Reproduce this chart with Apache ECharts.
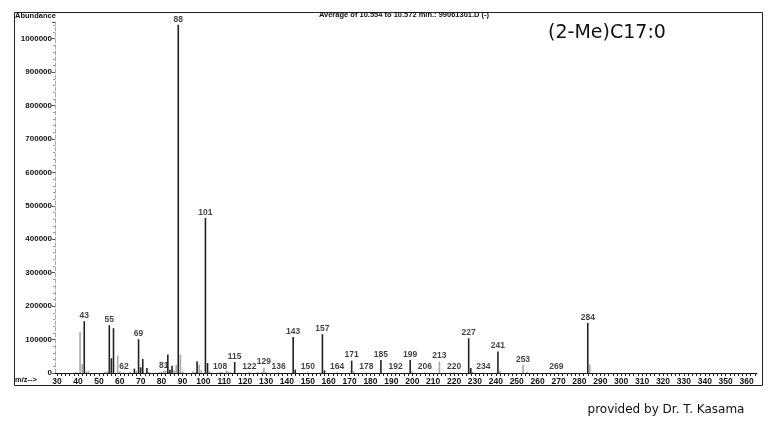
<!DOCTYPE html>
<html>
<head>
<meta charset="utf-8">
<script src="https://cdn.jsdelivr.net/npm/echarts@6/dist/echarts.min.js"></script>
<style>
html,body{margin:0;padding:0;background:#fff;}
#c{width:778px;height:433px;}
</style>
</head>
<body>
<div id="c"></div>
<script>
// dark (black) peaks: m/z and abundance
const darkMz    = [43, 55, 56, 57, 67, 69, 70, 71, 73, 83, 84, 85, 88, 97, 101, 102, 115, 143, 144, 157, 158, 171, 185, 199, 227, 228, 241, 284];
const darkAbund = [155000, 143000, 44000, 134000, 13000, 101000, 17000, 42000, 15000, 55000, 10000, 22000, 1042000, 35000, 464000, 30000, 33000, 108000, 10000, 116000, 8000, 37000, 39000, 39000, 104000, 15000, 64000, 150000];
// grey (faint) peaks
const greyMz    = [39, 41, 42, 44, 45, 53, 54, 59, 60, 62, 65, 68, 74, 77, 79, 80, 81, 82, 86, 87, 89, 90, 95, 96, 98, 99, 103, 108, 109, 111, 112, 113, 122, 126, 128, 129, 130, 136, 150, 164, 172, 178, 192, 200, 206, 213, 220, 229, 234, 242, 253, 255, 269, 285];
const greyAbund = [4000, 123000, 26000, 5000, 6000, 4000, 5000, 52000, 5000, 2000, 3000, 6000, 3000, 2000, 3000, 4000, 6000, 7000, 8000, 25000, 55000, 5000, 5000, 3000, 25000, 8000, 5000, 3000, 3000, 8000, 5000, 3000, 3000, 3000, 4000, 16000, 4000, 2000, 2000, 2000, 5000, 2000, 2000, 4000, 2000, 34000, 2000, 4000, 2000, 6000, 24000, 4000, 2000, 25000];
// labelled peaks
const labelMz = [43, 55, 62, 69, 81, 88, 101, 108, 115, 122, 129, 136, 143, 150, 157, 164, 171, 178, 185, 192, 199, 206, 213, 220, 227, 234, 241, 253, 269, 284];
// axis tick labels
const xTickLabels = [30,40,50,60,70,80,90,100,110,120,130,140,150,160,170,180,190,200,210,220,230,240,250,260,270,280,290,300,310,320,330,340,350,360];
const yTickLabels = [0,100000,200000,300000,400000,500000,600000,700000,800000,900000,1000000];

const xMinorTicks = [];
for (let v = 30; v <= 364; v += 2) xMinorTicks.push(v);

const allMap = {};
darkMz.forEach((m,i)=>{allMap[m]=Math.max(allMap[m]||0,darkAbund[i]);});
greyMz.forEach((m,i)=>{allMap[m]=Math.max(allMap[m]||0,greyAbund[i]);});

function stickSeries(mz, ab, color, width){
  return {
    type:'custom',
    data: mz.map((m,i)=>[m, ab[i]]),
    renderItem:function(params, api){
      const p0 = api.coord([api.value(0), 0]);
      const p1 = api.coord([api.value(0), api.value(1)]);
      return {type:'line', shape:{x1:p0[0],y1:p0[1],x2:p1[0],y2:p1[1]}, style:{stroke:color, lineWidth:width}};
    },
    silent:true, z:2
  };
}

const chart = echarts.init(document.getElementById('c'), null, {renderer:'canvas'});
const lblFont = {fontFamily:'Liberation Sans', fontWeight:'bold', fontSize:8, color:'#111'};
chart.setOption({
  animation:false,
  backgroundColor:'#fff',
  grid:{left:55, right:21, top:22, bottom:60, containLabel:false},
  xAxis:{
    type:'value', min:29, max:365,
    axisLine:{show:true, lineStyle:{color:'#111', width:1}},
    axisTick:{show:true, customValues:xMinorTicks, length:3, lineStyle:{color:'#222'}},
    axisLabel:{customValues:xTickLabels, margin:4, ...lblFont, fontSize:8.5},
    splitLine:{show:false}
  },
  yAxis:{
    type:'value', min:0, max:1050000, interval:100000,
    axisLine:{show:true, lineStyle:{color:'#aaa', width:1, type:'dashed'}},
    axisTick:{show:true, length:3, lineStyle:{color:'#555'}},
    minorTick:{show:true, splitNumber:5, length:2, lineStyle:{color:'#999'}},
    axisLabel:{customValues:yTickLabels, margin:3, formatter:v=>String(v), ...lblFont},
    splitLine:{show:false}
  },
  series:[
    stickSeries(greyMz, greyAbund, '#a8a8a8', 1.6),
    stickSeries(darkMz, darkAbund, '#222', 1.6),
    {
      type:'scatter', symbolSize:0, silent:true, z:3,
      data: labelMz.map(m=>[m, allMap[m]||0]),
      label:{show:true, position:'top', distance:1, formatter:p=>String(p.value[0]), ...lblFont, fontSize:8.5}
    }
  ],
  graphic:[
    {type:'rect', shape:{x:14.5, y:12.5, width:748, height:373}, style:{fill:null, stroke:'#222', lineWidth:1}, silent:true},
    {type:'text', left:15, top:12, style:{text:'Abundance', font:'bold 7.5px "Liberation Sans"', fill:'#111'}},
    {type:'text', x:404, y:15, style:{text:'Average of 10.554 to 10.572 min.: 99061301.D (-)', font:'bold 7.5px "Liberation Sans"', fill:'#111', align:'center', verticalAlign:'middle'}},
    {type:'text', x:607, y:33, style:{text:'(2-Me)C17:0', font:'19px "DejaVu Sans"', fill:'#111', align:'center', verticalAlign:'middle'}},
    {type:'text', x:15, y:380, style:{text:'m/z-->', font:'bold 7.5px "Liberation Sans"', fill:'#111', verticalAlign:'middle'}},
    {type:'text', x:666, y:410, style:{text:'provided by Dr. T. Kasama', font:'12px "DejaVu Sans"', fill:'#111', align:'center', verticalAlign:'middle'}}
  ]
});
</script>
</body>
</html>
